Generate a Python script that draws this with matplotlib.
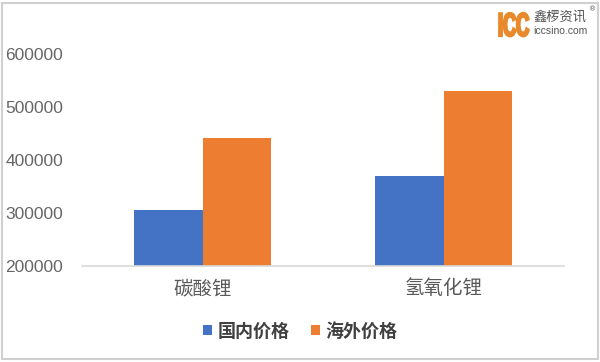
import numpy as np
import matplotlib.pyplot as plt
from matplotlib.patches import Rectangle, PathPatch
from matplotlib.textpath import TextPath
from matplotlib.font_manager import FontProperties
from matplotlib.transforms import Affine2D

categories = ['碳酸锂', '氢氧化锂']
domestic = [305000, 370000]
overseas = [442000, 531000]
series_names = ['国内价格', '海外价格']
yticks = [200000, 300000, 400000, 500000, 600000]

blue = '#4472C4'
orange = '#ED7D31'
cjk = ['Noto Sans CJK SC', 'DejaVu Sans']

fig = plt.figure(figsize=(6, 3.62), dpi=100)
ax = fig.add_axes([82 / 600, 1 - 266 / 362, (564 - 82) / 600, (266 - 54) / 362])

x = np.arange(len(categories))
w = 0.284
b1 = ax.bar(x - w / 2, np.array(domestic) - 200000, w, bottom=200000, color=blue, label=series_names[0])
b2 = ax.bar(x + w / 2, np.array(overseas) - 200000, w, bottom=200000, color=orange, label=series_names[1])

ax.set_xlim(-0.5, 1.5)
ax.set_ylim(200000, 600000)
ax.set_yticks(yticks)
ax.set_yticklabels([str(v) for v in yticks], family='Liberation Sans', fontsize=12.5, color='#666666')
ax.set_xticks(x)
ax.set_xticklabels(categories, family=cjk, fontsize=14, color='#595959')
ax.tick_params(axis='y', length=0, pad=13.5)
ax.tick_params(axis='x', length=0, pad=9)

for s in ['top', 'right', 'left']:
    ax.spines[s].set_visible(False)
ax.spines['bottom'].set_color('#d9d9d9')
ax.spines['bottom'].set_linewidth(1.2)

leg = fig.legend(handles=[b1, b2], labels=series_names, loc='center', bbox_to_anchor=(0.5, 1 - 331 / 362),
                 ncol=2, frameon=False, handlelength=0.5, handleheight=0.5, handletextpad=0.3,
                 columnspacing=1.2, prop={'family': cjk, 'size': 13, 'weight': 'bold'})
for t in leg.get_texts():
    t.set_color('#404040')

# logo: condensed, heavy "ICC" drawn as a squeezed text path in pixel coords
icc = TextPath((0, 0), 'ICC', size=33, prop=FontProperties(family='Liberation Sans', weight='bold'))
fig.patches.append(PathPatch(icc, transform=Affine2D().scale(0.55, 1).translate(498, 362 - 36),
                             facecolor='#E8892B', edgecolor='#E8892B', linewidth=1.6))
fig.text(533 / 600, 1 - 17 / 362, '鑫椤资讯', family=cjk, fontsize=9.5, color='#555555', va='center', ha='left')
fig.text(589 / 600, 1 - 9 / 362, '®', family='DejaVu Sans', fontsize=5, color='#555555', va='center', ha='left')
fig.text(533 / 600, 1 - 31 / 362, 'iccsino.com', family='Liberation Sans', fontsize=7.5, color='#555555',
         va='center', ha='left')

# outer border
fig.patches.append(Rectangle((1.5 / 600, 3.5 / 362), 596 / 600, 356 / 362, transform=fig.transFigure,
                             fill=False, edgecolor='#d0d0d0', linewidth=1.5))

fig.savefig('out.png', dpi=100)
